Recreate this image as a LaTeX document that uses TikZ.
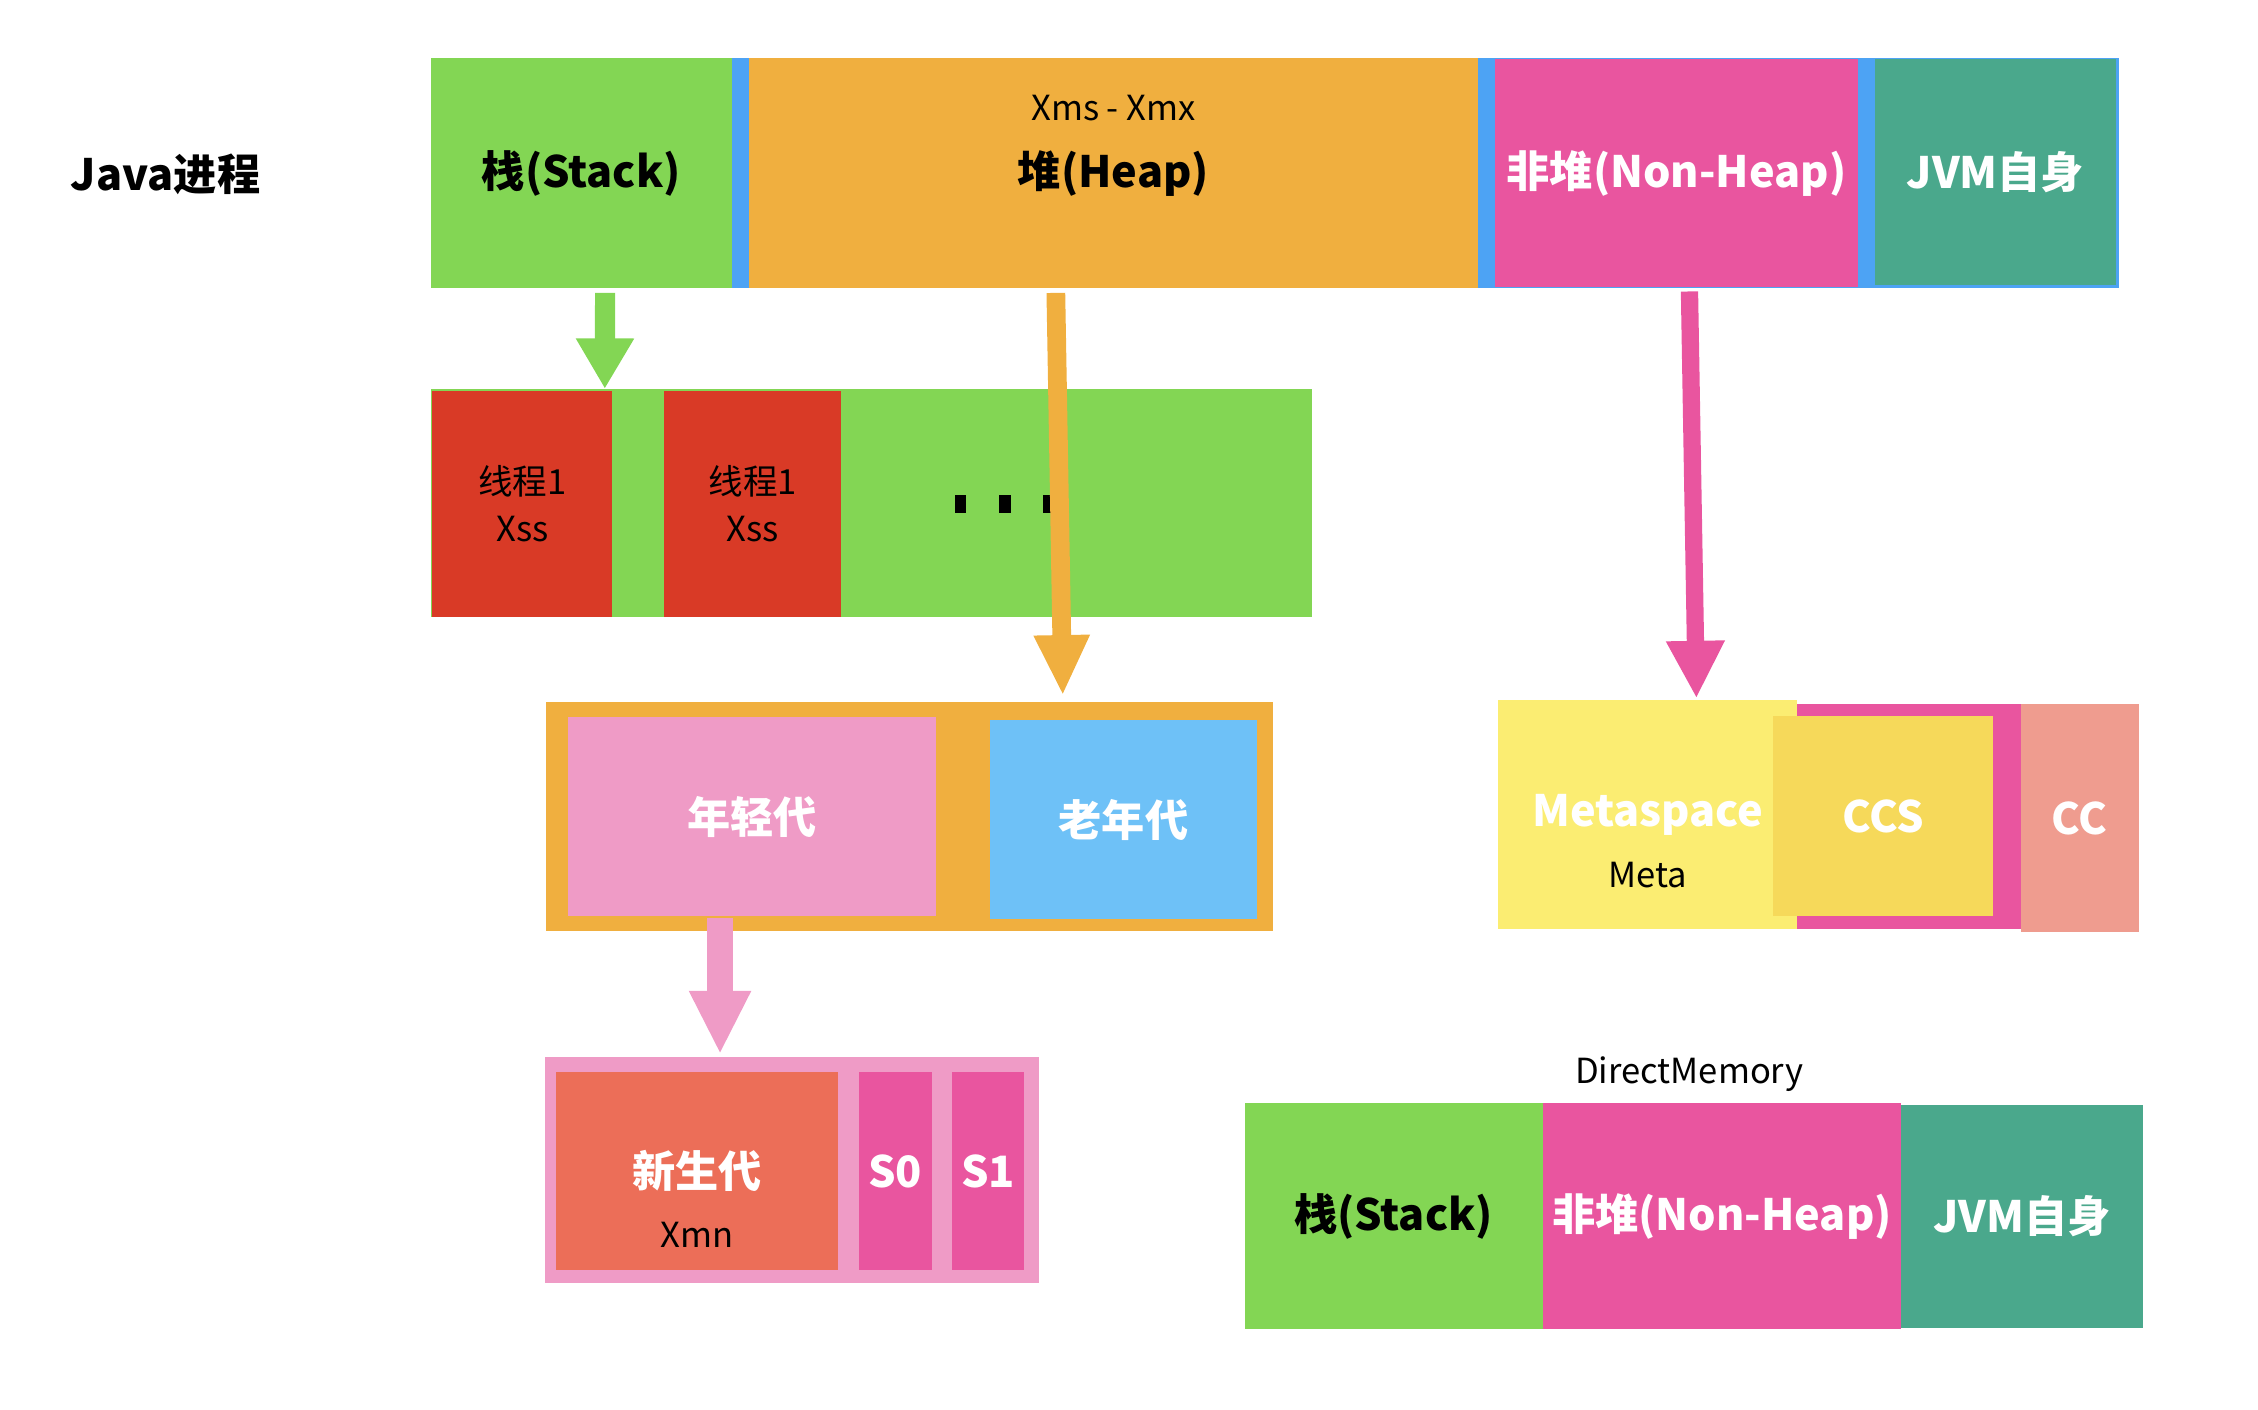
\documentclass[tikz,border=0pt]{standalone}
\usepackage{fontspec}
\setmainfont{Noto Sans CJK SC}
\usetikzlibrary{arrows.meta,calc}

\definecolor{jgreen}{RGB}{131,214,84}
\definecolor{jblue}{RGB}{77,163,244}
\definecolor{jorange}{RGB}{240,175,63}
\definecolor{jmagenta}{RGB}{233,85,159}
\definecolor{jteal}{RGB}{74,168,140}
\definecolor{jred}{RGB}{217,58,38}
\definecolor{jpink}{RGB}{239,155,198}
\definecolor{jsky}{RGB}{110,193,247}
\definecolor{jyellow}{RGB}{251,237,114}
\definecolor{jgold}{RGB}{246,217,90}
\definecolor{jsalmon}{RGB}{239,156,143}
\definecolor{jcoral}{RGB}{236,110,88}

\begin{document}
\begin{tikzpicture}[x=1pt,y=-1pt]
    \tikzstyle{blk}=[
        rectangle,
        inner sep=0pt,
        anchor=north west,
        font=\bfseries\fontsize{30}{36}\selectfont]
    \tikzstyle{small}=[font=\fontsize{24}{33}\selectfont, align=center]
    \tikzstyle{fat}=[line width=14pt, -{Triangle[width=38pt,length=35pt]}]

    \useasboundingbox (0,0) rectangle (1568,979);

    % Java process
    \node[font=\bfseries\fontsize{30}{36}\selectfont] (java) at (115,121) {Java进程};
    \node[blk, fill=jblue, minimum width=963, minimum height=160] (bar) at (508,40) {};
    \node[blk, fill=jgreen, minimum width=209, minimum height=160] (stack) at (299,40) {栈(Stack)};
    \node[blk, fill=jorange, minimum width=506, minimum height=160] (heap) at (520,40) {堆(Heap)};
    \node[small] (heapnote) at ($(heap.center)+(0,-45)$) {Xms - Xmx};
    \node[blk, fill=jmagenta, text=white, minimum width=252, minimum height=158] (nonheap) at (1038,41) {非堆(Non-Heap)};
    \node[blk, fill=jteal, text=white, minimum width=167, minimum height=157] (jvm) at (1302,41) {JVM自身};

    % threads
    \node[blk, fill=jgreen, minimum width=612, minimum height=158] (threads) at (299,270) {};
    \node[blk, fill=jred, small, minimum width=125, minimum height=157] (thr1) at (300,271) {线程1\\Xss};
    \node[blk, fill=jred, small, minimum width=123, minimum height=157] (thr2) at (461,271) {线程1\\Xss};
    \foreach \x [count=\i] in {667,698,728}
        \node[fill=black, inner sep=0pt, minimum width=8, minimum height=12] (dot\i) at (\x,350) {};

    % heap parts
    \node[blk, fill=jorange, minimum width=505, minimum height=159] (gen) at (379,487) {};
    \node[blk, fill=jpink, text=white, minimum width=256, minimum height=138] (young) at (394,498) {年轻代};
    \node[blk, fill=jsky, text=white, minimum width=186, minimum height=138] (old) at (687,500) {老年代};

    % non-heap parts
    \node[blk, fill=jyellow, text=white, minimum width=208, minimum height=159] (meta) at (1040,486) {Metaspace};
    \node[small] (metanote) at ($(meta.center)+(0,42)$) {Meta};
    \node[blk, fill=jmagenta, minimum width=155, minimum height=156] (cmag) at (1248,489) {};
    \node[blk, fill=jgold, text=white, minimum width=153, minimum height=139] (ccs) at (1231,497) {CCS};
    \node[blk, fill=jsalmon, text=white, minimum width=82, minimum height=158] (cc) at (1403,489) {CC};

    % young generation
    \node[blk, fill=jpink, minimum width=343, minimum height=157] (newgen) at (378,734) {};
    \node[blk, fill=jcoral, text=white, minimum width=196, minimum height=138] (eden) at (386,744) {新生代};
    \node[small] (edennote) at ($(eden.center)+(0,44)$) {Xmn};
    \node[blk, fill=jmagenta, text=white, minimum width=51, minimum height=138] (s0) at (596,744) {S0};
    \node[blk, fill=jmagenta, text=white, minimum width=50, minimum height=138] (s1) at (661,744) {S1};

    % direct memory
    \node[small] (dm) at (1173,746) {DirectMemory};
    \node[blk, fill=jgreen, minimum width=207, minimum height=157] (bstack) at (864,766) {栈(Stack)};
    \node[blk, fill=jmagenta, text=white, minimum width=249, minimum height=157] (bnonheap) at (1071,766) {非堆(Non-Heap)};
    \node[blk, fill=jteal, text=white, minimum width=168, minimum height=155] (bjvm) at (1320,767) {JVM自身};

    \draw[fat, color=jgreen] ($(stack.south)+(16.5,3)$) -- ($(threads.north west)+(121,0)$);
    \draw[fat, color=jorange, line width=13pt, -{Triangle[width=36pt,length=42pt]}]
        ($(heap.south)+(-40,3)$) -- ($(gen.north west)+(359,-4)$);
    \draw[fat, color=jmagenta, line width=12pt, -{Triangle[width=38pt,length=40pt]}]
        ($(nonheap.south)+(9,3)$) -- ($(meta.north west)+(138,-1)$);
    \draw[fat, color=jpink, line width=18pt, -{Triangle[width=40pt,length=44pt]}]
        ($(young.south west)+(106,1)$) -- ($(newgen.north west)+(122,-2)$);
\end{tikzpicture}
\end{document}
